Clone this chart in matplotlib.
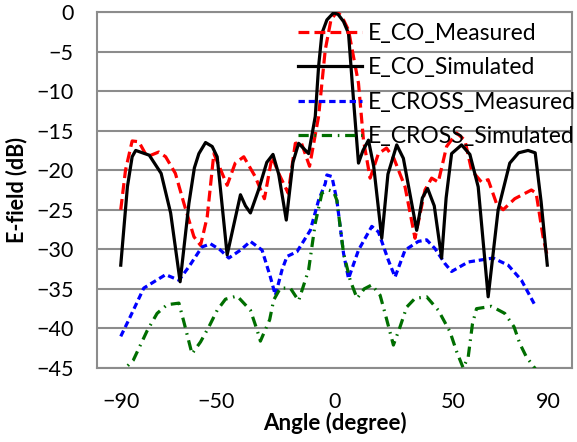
import matplotlib
matplotlib.use("Agg")
import matplotlib.pyplot as plt

# ---------------- data ----------------
co_sim_angle = [-90, -87.2, -85.2, -83.7, -78, -73, -69, -65, -61.3, -59, -57.1, -54.3, -51.5, -49.4,
                -45.2, -39.6, -37.5, -35.4, -32, -28.5, -25.9, -23.5, -20.3, -17.5, -15.1, -10.9, -8.1,
                -6.7, -5.3, -3.2, -0.4, 1.5, 3.8, 5.9, 8, 10.1, 12, 14.3, 16.5, 19.9, 22.5, 26.2, 29,
                34.6, 37, 39.2, 42, 45.1, 47, 49.3, 53.5, 57, 60.5, 64.7, 68.9, 73.8, 77.5, 81.5, 84.5,
                87, 89.6]
co_sim_val = [-32.0, -22.1, -18.3, -17.5, -18.1, -20.4, -25.4, -34.1, -24.2, -19.7, -17.9, -16.5, -17.0, -18.3,
              -30.7, -23.1, -24.5, -25.4, -22.5, -19.0, -18.0, -20.5, -26.3, -19.0, -16.6, -17.9, -13.2,
              -6.9, -2.7, -1.0, -0.1, -0.3, -1.2, -2.7, -11.1, -19.1, -17.5, -16.2, -19.5, -28.6, -20.5, -16.8, -18.5,
              -27.6, -23.5, -22.3, -24.5, -31.1, -23.5, -17.9, -16.8, -18.0, -22.1, -36.0, -25.0, -19.1, -17.8, -17.5, -17.8,
              -24.0, -32.0]

co_meas_angle = [-90, -88, -85.2, -82.4, -78.9, -74, -71.1, -67, -63.4, -59.2, -56.4, -53.6, -50.8,
                 -45.2, -41.8, -38.2, -33.4, -29.5, -26.3, -23.5, -19.5, -16.5, -14, -10.5, -6.7, -3.9,
                 -1.5, 1, 3, 5.9, 10.1, 12.2, 15, 18.5, 21.9, 25, 29.7, 33.9, 38.1, 40.9, 43.7, 47.2,
                 51.4, 54.9, 57.7, 61.9, 64.7, 68.2, 71, 75.9, 82.9, 84.9, 87.8, 89.6]
co_meas_val = [-25.0, -20.0, -16.3, -16.4, -18.3, -17.7, -18.3, -20.4, -24.2, -28.4, -29.5, -25.9, -17.9,
               -21.9, -19.1, -18.3, -20.8, -23.6, -18.3, -20.4, -22.9, -16.6, -16.5, -19.5, -13.2, -4.8,
               -1.0, 0.0, -0.5, -2.3, -9.0, -16.2, -21.0, -17.9, -17.2, -18.5, -22.1, -28.6, -22.5, -21.0, -21.5, -17.0,
               -15.3, -16.2, -20.0, -21.5, -21.2, -24.2, -25.0, -23.6, -22.5, -22.9, -28.4, -30.9]

cross_meas_angle = [-90, -86.6, -80.3, -76, -71.1, -65.5, -61.3, -55.8, -52.2, -48, -44.5, -39.6, -35.4,
                    -30.5, -27, -24.9, -22.1, -20, -15.8, -10.2, -6.7, -3.9, -3.2, -1.1, 1, 3.8, 5.9,
                    10.1, 15.7, 18.5, 22.7, 25.5, 29.7, 35.3, 38.8, 42.3, 46.5, 49.3, 56.3, 66.8,
                    73.1, 78.7, 84.3]
cross_meas_val = [-41.0, -38.9, -34.9, -34.1, -33.2, -33.9, -32.2, -29.7, -29.3, -30.1, -31.1, -30.1, -29.0,
                  -30.1, -33.5, -35.8, -32.6, -30.9, -30.3, -27.6, -23.8, -21.7, -20.6, -20.8, -23.8, -30.5, -33.7,
                  -30.1, -27.1, -27.8, -31.4, -33.5, -30.1, -29.0, -28.8, -29.9, -31.8, -32.8, -31.6, -31.1,
                  -32.0, -33.9, -37.0]

cross_sim_angle = [-90, -88, -84.7, -78.9, -74.7, -70.5, -65.5, -63.4, -60, -56.4, -52.9, -49.4, -45.9,
                   -41, -35.4, -32.6, -31.2, -27.3, -25.6, -22.8, -18.6, -15.1, -10.9, -8.1, -5.3, -2.5,
                   -0.4, 1, 3.8, 6.6, 9.5, 12.5, 15.7, 19.2, 21.3, 24.8, 27.6, 30.4, 33.9, 38.8, 43.7,
                   48.6, 51.4, 54.2, 56.3, 58.1, 59.8, 66.1, 71.7, 75.6, 78, 80.8, 84.3, 90]
cross_sim_val = [-46.5, -45.0, -44.0, -40.3, -38.1, -37.0, -36.8, -39.2, -43.2, -41.7, -39.8, -37.7, -36.3,
                 -35.9, -37.7, -40.2, -41.6, -38.9, -36.4, -34.9, -34.9, -36.5, -32.6, -26.7, -22.9, -22.5,
                 -22.7, -23.8, -30.5, -33.9, -36.2, -35.0, -34.5, -35.8, -38.1, -42.1, -39.8, -37.3, -36.2, -36.0, -37.7,
                 -40.4, -42.9, -45.0, -43.6, -39.4, -37.5, -37.2, -38.1, -39.8, -41.9, -43.6, -45.0, -48.0]

labels = ["E_CO_Measured", "E_CO_Simulated", "E_CROSS_Measured", "E_CROSS_Simulated"]
x_ticks = [-90, -50, 0, 50, 90]
x_grid = [-50, 0, 50]
y_ticks = [0, -5, -10, -15, -20, -25, -30, -35, -40, -45]

# ---------------- figure ----------------
plt.rcParams['font.family'] = ['Lato', 'DejaVu Sans']
fig = plt.figure(figsize=(5.77, 4.42), dpi=100)
ax = fig.add_axes([97/577, 1-368/442, 475/577, 356/442])

lw = 2.3
ax.plot(co_meas_angle, co_meas_val, color='#FF0000', lw=lw, dashes=(3.4, 1.6), label=labels[0], zorder=3)
ax.plot(co_sim_angle, co_sim_val, color='black', lw=lw, label=labels[1], zorder=4)
ax.plot(cross_meas_angle, cross_meas_val, color='#0000FF', lw=lw, dashes=(2.0, 1.2), label=labels[2], zorder=3)
ax.plot(cross_sim_angle, cross_sim_val, color='#006E00', lw=lw, dashes=(3.2, 1.8, 0.5, 1.8), label=labels[3], zorder=3)

ax.set_xlim(-100, 100)
ax.set_ylim(-45, 0)
ax.set_xticks(x_ticks)
ax.set_xticks(x_grid, minor=True)
ax.set_yticks(y_ticks)
ax.tick_params(axis='both', which='both', length=0, labelsize=15.5)
ax.tick_params(axis='y', pad=17)
ax.tick_params(axis='x', pad=17)
ax.grid(False)
ax.xaxis.grid(True, which='minor', color='#8C8C8C', lw=1.5)
ax.yaxis.grid(True, which='major', color='#8C8C8C', lw=1.5)
ax.set_axisbelow(True)
for s in ax.spines.values():
    s.set_color('#8C8C8C')
    s.set_linewidth(1.5)

ax.set_xlabel("Angle (degree)", fontsize=16, fontweight='bold', labelpad=0)
ax.set_ylabel("E-field (dB)", fontsize=15.5, fontweight='bold', labelpad=6)

leg = ax.legend(loc='upper left', bbox_to_anchor=(298/577, 1-23/442), bbox_transform=fig.transFigure,
                frameon=False, fontsize=16.5, handlelength=2.8, handletextpad=0.25,
                labelspacing=0.58, borderpad=0, borderaxespad=0)
leg.set_zorder(5)

fig.savefig("out.png", dpi=100)
